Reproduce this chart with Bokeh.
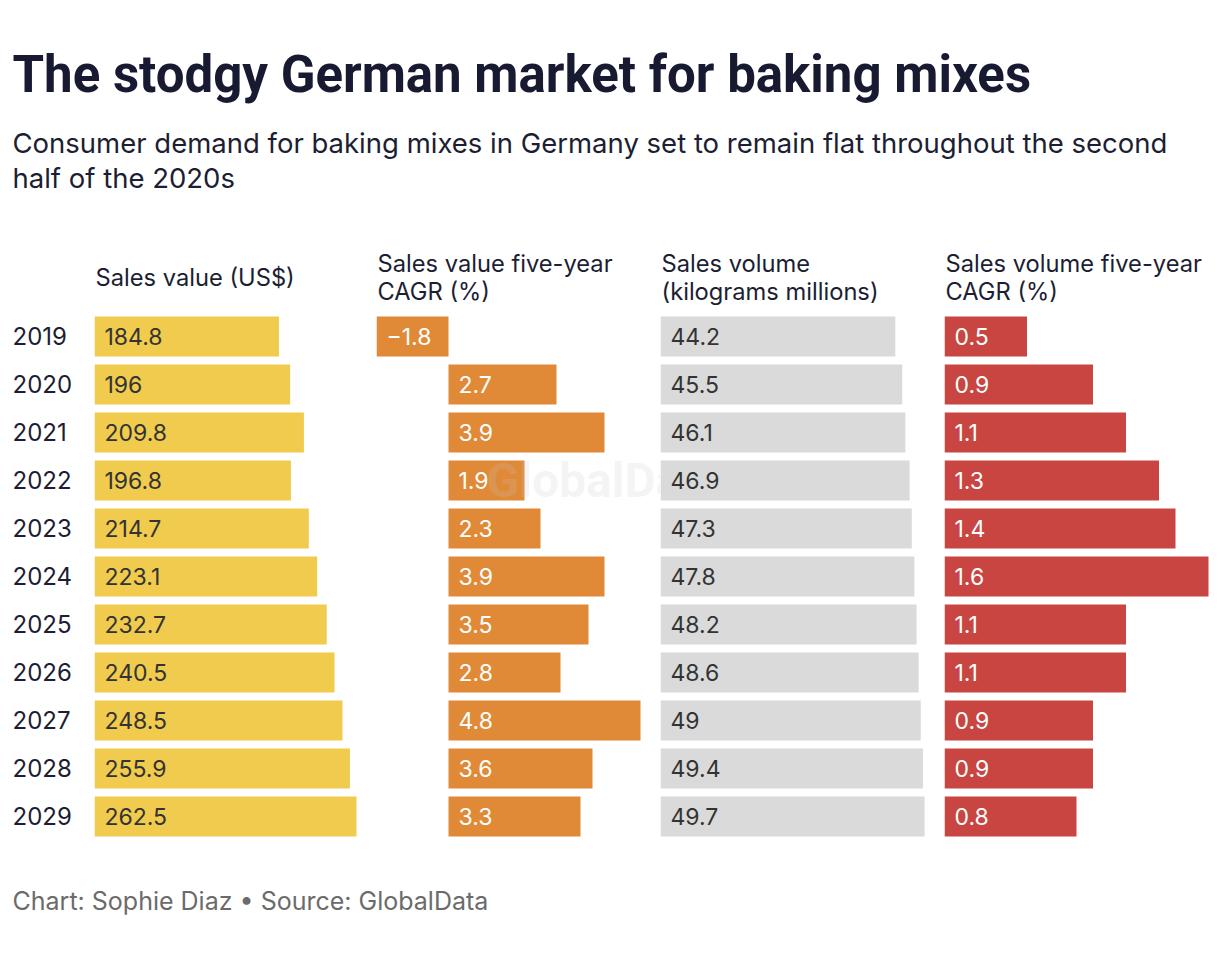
from bokeh.plotting import figure
from bokeh.layouts import column, row
from bokeh.models import Range1d, Label, ColumnDataSource
from bokeh.core.properties import value
from bokeh.embed import file_html
from bokeh.resources import INLINE

# ---------------- data ----------------
years = ["2019", "2020", "2021", "2022", "2023", "2024", "2025", "2026", "2027", "2028", "2029"]
sales_value = [184.8, 196, 209.8, 196.8, 214.7, 223.1, 232.7, 240.5, 248.5, 255.9, 262.5]
sales_value_cagr = [-1.8, 2.7, 3.9, 1.9, 2.3, 3.9, 3.5, 2.8, 4.8, 3.6, 3.3]
sales_volume = [44.2, 45.5, 46.1, 46.9, 47.3, 47.8, 48.2, 48.6, 49, 49.4, 49.7]
sales_volume_cagr = [0.5, 0.9, 1.1, 1.3, 1.4, 1.6, 1.1, 1.1, 0.9, 0.9, 0.8]

title = "The stodgy German market for baking mixes"
subtitle = ["Consumer demand for baking mixes in Germany set to remain flat throughout the second",
            "half of the 2020s"]
headers = [["Sales value (US$)"],
           ["Sales value five-year", "CAGR (%)"],
           ["Sales volume", "(kilograms millions)"],
           ["Sales volume five-year", "CAGR (%)"]]
footer_text = "Chart: Sophie Diaz \u2022 Source: GlobalData"
watermark = "GlobalData"

TFONT = "Roboto"
FONT = "Inter"
DARK = "#171a30"
TEXT = "#1c1e33"
VAL_DARK = "#333333"

# ---------------- layout constants ----------------
ROW_H = 48          # px per row
BAR_FRAC = 40 / 48  # bar thickness
TOP = 96            # px from top of row figure to first row centre
ROWS_FIG_H = 610
y_top = -TOP / ROW_H
y_bot = (ROWS_FIG_H - TOP) / ROW_H
idx = list(range(len(years)))
BL = 0.36           # renderer baseline correction (em)
HS = 23.7           # header font size
VS = 23             # value font size
YS = 24             # year font size


def make_fig(w, h, xr, yr):
    p = figure(width=w, height=h, x_range=xr, y_range=yr, output_backend="svg",
               toolbar_location=None, min_border=0, outline_line_color=None,
               x_axis_location=None, y_axis_location=None)
    p.grid.visible = False
    p.background_fill_color = "white"
    p.border_fill_color = "white"
    return p


def fmt(v):
    return f"{v:g}".replace("-", "\u2212")


# ---------------- header figure ----------------
HEAD_H = 240
head = make_fig(1212, HEAD_H, Range1d(0, 1212), Range1d(HEAD_H, 0))
head.add_layout(Label(x=12, y=92 - BL * 51, text=title, text_font=TFONT, text_font_size="51px",
                      text_font_style="bold", text_color=DARK, text_baseline="alphabetic"))
for i, line in enumerate(subtitle):
    head.add_layout(Label(x=12, y=152 + 35 * i - BL * 27.5, text=line, text_font=FONT,
                          text_font_size="27.5px", text_color=TEXT, text_baseline="alphabetic"))

# ---------------- year column ----------------
yr_fig = make_fig(94, ROWS_FIG_H, Range1d(0, 94), Range1d(y_bot, y_top))
ysrc = ColumnDataSource(dict(y=idx, t=years))
yr_fig.text(x=12, y="y", text="t", source=ysrc, text_font=value(FONT), text_font_size=f"{YS}px",
            text_color=TEXT, text_baseline="alphabetic", y_offset=8 - BL * YS)


def bar_column(values, width, lo, span_px, color, label_color):
    lo_v = min(0, min(values)) if lo is None else lo
    hi_v = max(values)
    units_per_px = (hi_v - lo_v) / span_px
    xr = Range1d(lo_v, lo_v + width * units_per_px)
    p = make_fig(width, ROWS_FIG_H, xr, Range1d(y_bot, y_top))
    src = ColumnDataSource(dict(y=idx, v=values, left=[min(0, v) for v in values],
                                lab=[fmt(v) for v in values]))
    p.hbar(y="y", left=0, right="v", height=BAR_FRAC, source=src, fill_color=color,
           line_color=None)
    p.text(x="left", y="y", text="lab", source=src, text_font=value(FONT),
           text_font_size=f"{VS}px", text_color=label_color, text_baseline="alphabetic",
           x_offset=10, y_offset=8 - BL * VS)
    return p


f1 = bar_column(sales_value, 282, 0, 262, "#f0cb4e", VAL_DARK)
f2 = bar_column(sales_value_cagr, 284, None, 264, "#e08a38", "white")
f3 = bar_column(sales_volume, 284, 0, 264, "#dadada", VAL_DARK)
f4 = bar_column(sales_volume_cagr, 268, 0, 264, "#c94541", "white")

# faint watermark (drawn in the second column, hidden behind the third)
f2.add_layout(Label(x=0.95, y=3, text=watermark, text_font=TFONT, text_font_size="48px",
                    text_font_style="bold", text_color="#c8c8c8", text_alpha=0.2,
                    text_baseline="middle"))

# column headers
for p, lines in zip([f1, f2, f3, f4], headers):
    x0 = p.x_range.start
    if len(lines) == 1:
        ys = [46]
    else:
        ys = [32, 60]
    for line, yy in zip(lines, ys):
        p.add_layout(Label(x=x0, y=(yy - BL * HS - TOP) / ROW_H, text=line, text_font=FONT,
                           text_font_size=f"{HS}px", text_color=TEXT, text_baseline="alphabetic",
                           x_offset=1))

# ---------------- footer ----------------
foot = make_fig(1212, 80, Range1d(0, 1212), Range1d(80, 0))
foot.add_layout(Label(x=12, y=59 - BL * 25, text=footer_text, text_font=FONT,
                      text_font_size="25px", text_color="#6b6b6b", text_baseline="alphabetic"))

layout = column(head, row(yr_fig, f1, f2, f3, f4), foot)
open("out.html", "w").write(file_html(layout, INLINE))
